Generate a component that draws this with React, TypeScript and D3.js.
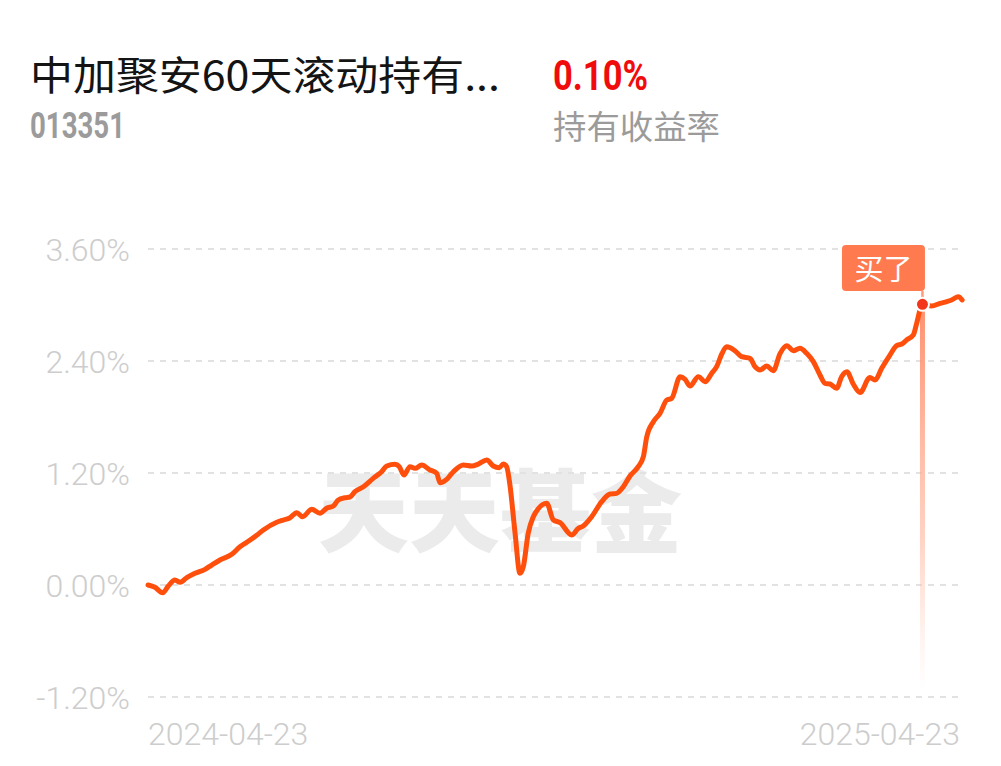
import React from "react";
import * as d3 from "d3";

// ---- data ----
const dayOffsets = [
  0, 3.1, 6.6, 9.1, 12.1, 14.4, 17.4, 21.1, 25.6, 28.6, 32.3, 37.6, 41.3, 44.3, 48.8, 51.8,
  57.8, 60.7, 63.8, 66.8, 69.4, 73.5, 77.2, 80.2, 83.2, 85.4, 88.4, 90.7, 92.9, 96.7, 101.1,
  104.9, 107.2, 110.9, 112.8, 114.9, 117.6, 119.9, 122.9, 126.6, 129.6, 131.1, 134.1, 137.1,
  141.6, 145.3, 148.3, 152.1, 155.0, 157.7, 159.5, 161.0, 162.5, 164.8, 167.0, 168.5, 170.7,
  173.0, 175.1, 179.0, 182.0, 185.0, 190.2, 193.2, 195.4, 199.2, 203.7, 207.4, 210.4, 213.4,
  216.4, 220.1, 222.4, 223.9, 226.9, 229.9, 232.9, 235.1, 238.9, 241.1, 243.3, 247.1, 250.1,
  253.1, 255.3, 257.6, 259.8, 263.5, 266.5, 270.3, 272.5, 274.8, 277.8, 280.7, 283.8, 286.8,
  289.7, 292.7, 295.7, 298.7, 301.7, 303.9, 306.2, 309.2, 311.4, 313.8, 316.6, 319.7, 324.1,
  326.4, 329.4, 333.1, 336.1, 338.4, 340.6, 343.6, 345.1, 346.6, 347.7, 351.8, 355.6, 358.6,
  360.8, 363.8, 365.5,
];
const returns = [
  0.0, -0.025, -0.083, -0.011, 0.054, 0.029, 0.078, 0.125, 0.168, 0.214, 0.268, 0.329, 0.41,
  0.457, 0.532, 0.589, 0.672, 0.696, 0.721, 0.775, 0.732, 0.811, 0.768, 0.822, 0.846, 0.911,
  0.935, 0.943, 1.0, 1.053, 1.143, 1.214, 1.275, 1.293, 1.268, 1.179, 1.268, 1.25, 1.286,
  1.232, 1.197, 1.096, 1.132, 1.214, 1.286, 1.275, 1.296, 1.339, 1.275, 1.257, 1.296, 1.268,
  1.071, 0.554, 0.125, 0.196, 0.554, 0.732, 0.814, 0.875, 0.696, 0.668, 0.536, 0.607, 0.632,
  0.732, 0.893, 0.975, 0.982, 1.053, 1.168, 1.268, 1.375, 1.586, 1.75, 1.84, 1.982, 2.0,
  2.232, 2.204, 2.132, 2.232, 2.178, 2.268, 2.339, 2.475, 2.553, 2.51, 2.446, 2.429, 2.339,
  2.304, 2.346, 2.296, 2.482, 2.564, 2.51, 2.536, 2.482, 2.393, 2.25, 2.161, 2.154, 2.107,
  2.232, 2.286, 2.154, 2.063, 2.223, 2.196, 2.322, 2.464, 2.564, 2.582, 2.625, 2.679, 2.804,
  2.946, 3.007, 2.989, 3.018, 3.036, 3.054, 3.089, 3.054,
];
const buyIndex = 118;
const yTicks = [3.6, 2.4, 1.2, 0, -1.2];
const xTickLabels = ["2024-04-23", "2025-04-23"];
const xTickDays = [0, 365];
const fundName = "中加聚安60天滚动持有...";
const fundCode = "013351";
const holdReturn = "0.10%";
const holdReturnLabel = "持有收益率";
const buyLabel = "买了";
const watermark = "天天基金";

export default function App() {
  const left = 148;
  const right = 961;
  const x = d3.scaleLinear().domain([0, 365]).range([left, right]);
  const y = d3.scaleLinear().domain([-1.2, 3.6]).range([697, 249]);
  const pts = dayOffsets.map((d, i) => [d, returns[i]] as [number, number]);
  const line = d3
    .line<[number, number]>()
    .x((d) => x(d[0]))
    .y((d) => y(d[1]))
    .curve(d3.curveMonotoneX);
  const bx = x(dayOffsets[buyIndex]);
  const by = y(returns[buyIndex]);
  const lightFont = "Roboto, 'Noto Sans', sans-serif";
  const cjk = "'Noto Sans CJK SC', 'Noto Sans', sans-serif";

  return (
    <svg
      width={1001}
      height={766}
      style={{ position: "absolute", left: 0, top: 0, background: "#fff" }}
    >
      <defs>
        <linearGradient id="buyGrad" x1="0" y1="0" x2="0" y2="1">
          <stop offset="0%" stopColor="#ff8a66" stopOpacity={0.95} />
          <stop offset="60%" stopColor="#ffb399" stopOpacity={0.6} />
          <stop offset="100%" stopColor="#ffd0c0" stopOpacity={0} />
        </linearGradient>
      </defs>
      <rect x={0} y={0} width={1001} height={766} fill="#fff" />

      {/* header */}
      <text x={30} y={90} fontFamily={cjk} fontSize={40} fill="#141414" textLength={470} lengthAdjust="spacingAndGlyphs">
        {fundName}
      </text>
      <text x={553} y={90} fontFamily={lightFont} fontWeight={700} fontSize={42} fill="#f00c0c" textLength={95} lengthAdjust="spacingAndGlyphs">
        {holdReturn}
      </text>
      <text x={30} y={138} fontFamily={lightFont} fontWeight={700} fontSize={36} fill="#9b9b9b" textLength={95} lengthAdjust="spacingAndGlyphs">
        {fundCode}
      </text>
      <text x={553} y={139} fontFamily={cjk} fontSize={33} fill="#9b9b9b" textLength={167} lengthAdjust="spacingAndGlyphs">
        {holdReturnLabel}
      </text>

      {/* watermark */}
      <text x={318} y={545} fontFamily={cjk} fontWeight={900} fontSize={90} fill="#ebebeb" textLength={364} lengthAdjust="spacingAndGlyphs">
        {watermark}
      </text>

      {/* grid + y labels */}
      {yTicks.map((t) => (
        <g key={t}>
          <line x1={left} x2={960} y1={y(t)} y2={y(t)} stroke="#e2e2e2" strokeWidth={2} strokeDasharray="6 6" />
          <text x={130} y={y(t) + 11.5} textAnchor="end" fontFamily={lightFont} fontWeight={300} fontSize={32} fill="#cdcdcd">
            {t.toFixed(2) + "%"}
          </text>
        </g>
      ))}

      {/* x labels */}
      {xTickLabels.map((l, i) => (
        <text
          key={l}
          x={i === 0 ? x(xTickDays[i]) : 960}
          y={745}
          textAnchor={i === 0 ? "start" : "end"}
          fontFamily={lightFont}
          fontWeight={300}
          fontSize={32}
          fill="#cdcdcd"
        >
          {l}
        </text>
      ))}

      {/* buy marker line */}
      <rect x={bx - 2.5} y={by} width={5} height={690 - by} fill="url(#buyGrad)" />
      <line x1={bx} x2={bx} y1={291} y2={by} stroke="#ff9a7a" strokeWidth={2.5} />

      {/* series */}
      <path d={line(pts) || ""} fill="none" stroke="#ff4f0d" strokeWidth={5} strokeLinejoin="round" strokeLinecap="round" />

      {/* buy dot */}
      <circle cx={bx} cy={by} r={6.5} fill="#f2361b" stroke="#fff" strokeWidth={2} />

      {/* buy label */}
      <rect x={bx + 2.5 - 83} y={245} width={83} height={46} rx={4} fill="#ff7b4f" />
      <text x={bx + 2.5 - 41.5} y={280} textAnchor="middle" fontFamily={cjk} fontSize={29} fill="#fff">
        {buyLabel}
      </text>
    </svg>
  );
}
